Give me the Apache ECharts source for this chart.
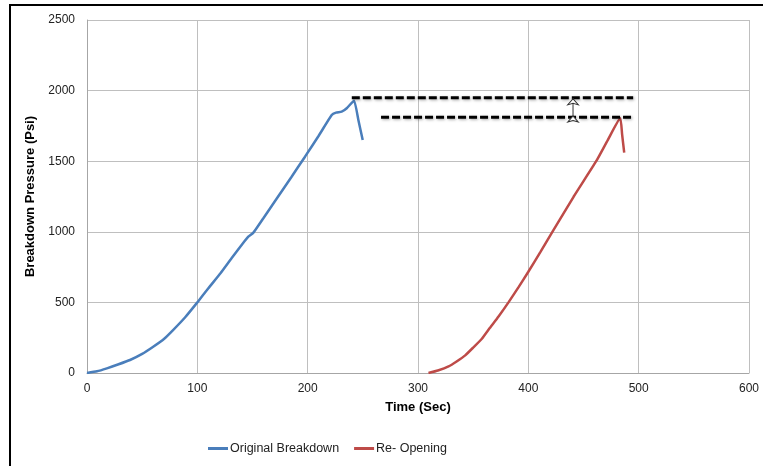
<!DOCTYPE html>
<html><head><meta charset="utf-8">
<script src="https://cdn.jsdelivr.net/npm/echarts@6/dist/echarts.min.js"></script>
<style>html,body{margin:0;padding:0;background:#fff}#c{width:763px;height:466px}</style>
</head><body><div id="c"></div>
<script>
var xTicks = [0,100,200,300,400,500,600];
var yTicks = [0,500,1000,1500,2000,2500];
var originalBreakdown = [[0,0],[9,12],[18,33],[28,60],[39,92],[50,135],[60,186],[70,243],[78,304],[89,395],[100,500],[110,600],[121,706],[131,812],[141,915],[146.2,965],[150.8,994],[160,1098],[172,1236],[185,1385],[197.6,1532],[210,1680],[221.8,1827],[225.7,1844],[230.8,1851],[235.4,1875],[242,1929],[246,1790],[249.9,1650]];
var reOpening = [[309.5,0],[318,18],[327.7,47],[335,82],[342.8,125],[350,180],[357.9,243],[365,318],[373,400],[382,500],[391,606],[400,717],[411,858],[421.8,1000],[441,1248],[461.5,1500],[472,1650],[483.3,1804],[485,1690],[486.9,1560]];
var dashTop = [[240,1950],[495,1950]];
var dashBottom = [[266.5,1811],[495,1811]];
var arrowLine = [[440.5,1942],[440.5,1820]];

var font = 'Liberation Sans';
var chart = echarts.init(document.getElementById('c'));
var dashStyle = {color:'#000',width:3,type:[8,3],shadowColor:'rgba(0,0,0,0.35)',shadowBlur:3,shadowOffsetX:1,shadowOffsetY:1};
chart.setOption({
  animation:false,
  graphic:[{type:'rect',shape:{x:10,y:5,width:800,height:520},style:{fill:null,stroke:'#000',lineWidth:2},z:-10}],
  grid:{left:87,right:14,top:20,bottom:93},
  legend:{bottom:6,left:203,itemWidth:20,itemHeight:3,itemGap:15,icon:'rect',
    textStyle:{fontFamily:font,fontSize:12.5,color:'#222',padding:[0,0,0,-3]},
    data:['Original Breakdown','Re- Opening']},
  xAxis:{type:'value',min:0,max:600,interval:100,
    name:'Time (Sec)',nameLocation:'middle',nameGap:28,
    nameTextStyle:{fontFamily:font,fontSize:13,fontWeight:'bold',color:'#000'},
    axisLine:{lineStyle:{color:'#a6a6a6'}},axisTick:{show:false},
    axisLabel:{fontFamily:font,fontSize:12,color:'#222',margin:10,
      formatter:function(v){return xTicks.indexOf(v)>=0?String(v):'';}},
    splitLine:{show:true,lineStyle:{color:'#bfbfbf',width:1}}},
  yAxis:{type:'value',min:0,max:2500,interval:500,
    name:'Breakdown Pressure (Psi)',nameLocation:'middle',nameGap:46,
    nameTextStyle:{fontFamily:font,fontSize:13,fontWeight:'bold',color:'#000'},
    axisLine:{show:true,lineStyle:{color:'#a6a6a6'}},axisTick:{show:false},
    axisLabel:{fontFamily:font,fontSize:12,color:'#222',margin:12,
      formatter:function(v){return yTicks.indexOf(v)>=0?String(v):'';}},
    splitLine:{show:true,lineStyle:{color:'#bfbfbf',width:1}}},
  series:[
    {name:'Original Breakdown',type:'line',data:originalBreakdown,showSymbol:false,smooth:0.15,
      lineStyle:{color:'#4a7ebb',width:2.5},itemStyle:{color:'#4a7ebb'}},
    {name:'Re- Opening',type:'line',data:reOpening,showSymbol:false,smooth:0.15,
      lineStyle:{color:'#be4b48',width:2.5},itemStyle:{color:'#be4b48'}},
    {name:'dash1',type:'line',data:dashTop,showSymbol:false,lineStyle:dashStyle,z:5},
    {name:'dash2',type:'line',data:dashBottom,showSymbol:false,lineStyle:dashStyle,z:5},
    {name:'arrow',type:'line',data:arrowLine,symbol:'arrow',symbolSize:[8,6],showSymbol:true,
      lineStyle:{color:'#333',width:1},itemStyle:{color:'#fff',borderColor:'#333',borderWidth:1},z:6}
  ]
});
</script></body></html>
